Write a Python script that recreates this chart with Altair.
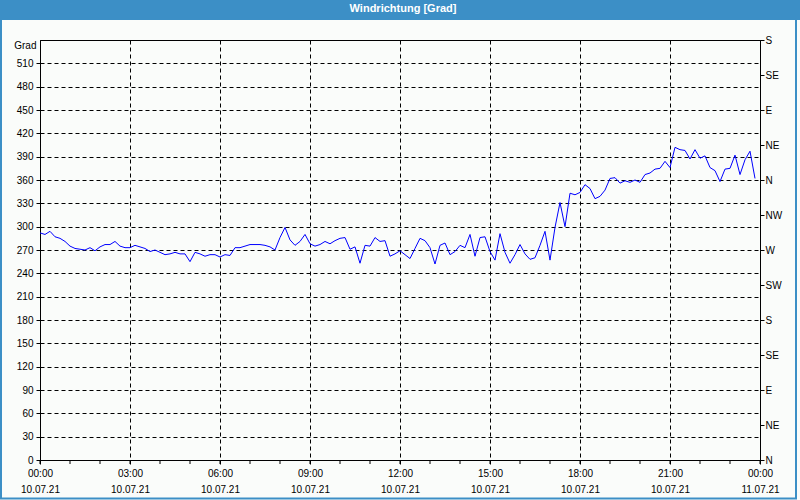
import altair as alt
import pandas as pd

# 10-minute readings for 10.07.21
times = [f"2021-07-10T{h:02d}:{m:02d}:00Z" for h in range(24) for m in range(0, 60, 10)]
wind_deg = [
    292, 290, 294, 287, 285, 281, 275, 272, 271, 270,
    273, 269, 274, 277, 277, 281, 275, 273, 273, 276,
    274, 272, 268, 270, 267, 264, 265, 267, 265, 265,
    255, 267, 265, 262, 264, 264, 261, 264, 263, 273,
    273, 275, 277, 277, 277, 276, 274, 270,
    286, 299, 283, 276, 281, 290, 278, 275, 277, 281,
    278, 282, 285, 286, 271, 274, 253, 276, 275, 286,
    281, 282, 262, 265, 269, 264, 259, 272, 285, 282,
    273, 252, 276, 279, 264, 268, 276, 273, 290, 262,
    286, 287, 268, 257, 291, 267, 253, 264,
    277, 265, 258, 260, 276, 294, 257, 299, 331, 300,
    343, 341, 344, 354, 349, 336, 339, 347, 362, 363,
    356, 359, 357, 360, 357, 367, 369, 374, 375, 384,
    376, 402, 399, 398, 387, 399, 388, 391, 376, 372,
    358, 374, 375, 392, 367, 386, 397, 362,
]
hour_ticks = [f"2021-07-10T{h:02d}:00:00Z" for h in range(24)] + ["2021-07-11T00:00:00Z"]
major_hours = [0, 3, 6, 9, 12, 15, 18, 21, 24]
left_ticks = list(range(0, 511, 30))
right_ticks = list(range(0, 541, 45))
compass = ["N", "NE", "E", "SE", "S", "SW", "W", "NW", "N", "NE", "E", "SE", "S"]
title_text = "Windrichtung [Grad]"

BLUE = "#3c8fc6"
FONT = "Liberation Sans"

df = pd.DataFrame({"time": times, "deg": wind_deg})
df_hours = pd.DataFrame({"time": hour_ticks})
one = pd.DataFrame({"a": [0]})


def dt(h):
    if h == 24:
        return alt.DateTime(year=2021, month=7, date=11, hours=0, utc=True)
    return alt.DateTime(year=2021, month=7, date=10, hours=h, utc=True)


xscale = alt.Scale(type="utc", domain=[dt(0), dt(24)])
xaxis = alt.Axis(
    values=[dt(h) for h in major_hours],
    labelExpr="[utcFormat(datum.value, '%H:%M'), utcFormat(datum.value, '%d.%m.%y')]",
    grid=True, gridDash=[4, 3], gridColor="black", gridOpacity=1,
    tickSize=4, labelPadding=4, labelLineHeight=16, labelFlush=False,
    labelOverlap=False, labelBaseline="top",
)
X = alt.X("time:T", scale=xscale, axis=xaxis, title=None)

yscale = alt.Scale(domain=[0, 540], nice=False, zero=True)

line = alt.Chart(df).mark_line(color="#0000ff", strokeWidth=1).encode(
    x=X,
    y=alt.Y(
        "deg:Q", scale=yscale,
        axis=alt.Axis(
            values=left_ticks, grid=True, gridDash=[4, 3], gridColor="black", gridOpacity=1,
            tickSize=4, labelPadding=3, title="Grad", titleAngle=0, titleAlign="right",
            titleBaseline="middle", titleX=-4, titleY=5, titleFontWeight="normal",
            titleFontSize=10, titleFont=FONT, titleColor="black",
        ),
    ),
)

right = alt.Chart(df).mark_line(opacity=0).encode(
    x=X,
    y=alt.Y(
        "deg:Q", scale=alt.Scale(domain=[0, 540], nice=False, zero=True),
        axis=alt.Axis(
            orient="right", values=right_ticks, grid=False, tickSize=4, labelPadding=1,
            labelExpr="[" + ",".join(f"'{c}'" for c in compass) + "][round(datum.value / 45)]",
            title=None,
        ),
    ),
)

minor = alt.Chart(df_hours).mark_rule(color="black", strokeWidth=1).encode(
    x=X, y=alt.value(420), y2=alt.value(424)
)

band = alt.Chart(one).mark_rect(color=BLUE).encode(
    x=alt.value(-40), x2=alt.value(760), y=alt.value(-40), y2=alt.value(-20)
)
border = alt.Chart(one).mark_rect(filled=False, stroke=BLUE, strokeWidth=2).encode(
    x=alt.value(-39), x2=alt.value(756), y=alt.value(-30), y2=alt.value(458.5)
)
title = alt.Chart(one).mark_text(
    color="white", font=FONT, fontSize=11, fontWeight="bold", align="center", baseline="middle"
).encode(x=alt.value(363), y=alt.value(-31), text=alt.value(title_text))

chart = (
    alt.layer(band, border, minor, line, right, title)
    .resolve_scale(y="independent")
    .properties(
        width=720, height=420,
        padding={"left": 40, "top": 40, "right": 40, "bottom": 40},
        autosize=alt.AutoSizeParams(type="none"),
        background="#fafcfa",
    )
    .configure_view(stroke="black", strokeWidth=1)
    .configure_axis(
        domainColor="black", tickColor="black", labelColor="black",
        labelFont=FONT, labelFontSize=10, domainWidth=1,
    )
)

chart.save("out.html", embed_options={"renderer": "svg", "actions": False})
